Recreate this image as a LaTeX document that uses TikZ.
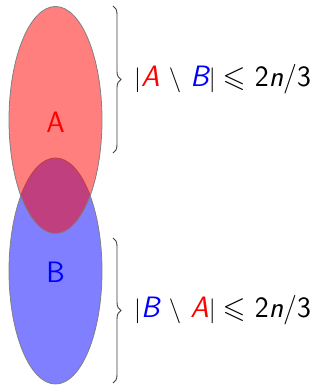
\documentclass[tikz,border=0pt]{standalone}
\usepackage{amssymb}
\usepackage{fontspec}
\usetikzlibrary{decorations.pathreplacing}
\begin{document}
\begin{tikzpicture}[x=1pt,y=1pt,
  setshape/.style={draw=gray, line width=0.8pt, fill opacity=0.5},
  bigtext/.style={font=\fontsize{29.5}{34}\selectfont\sffamily, inner sep=0pt},
  bracestyle/.style={decorate, decoration={brace, amplitude=8pt}, draw=black!75, line width=0.9pt}]
\useasboundingbox (0,0) rectangle (321,385);
\fill[white] (0,0) rectangle (321,385);
% blue then red
\filldraw[setshape, fill=blue] (55.5,114) ellipse [x radius=46.5, y radius=113];
\filldraw[setshape, fill=red] (55.5,265) ellipse [x radius=46.5, y radius=113.5];
\node[bigtext, text=red] (la) at (55.5,263) {A};
\node[bigtext, text=blue] (lb) at (55.5,113) {B};
\coordinate (t1) at (113,379);
\coordinate (t2) at (113,232);
\coordinate (b1) at (113,147);
\coordinate (b2) at (113,2);
\draw[bracestyle] (t1) -- (t2);
\draw[bracestyle] (b1) -- (b2);
\node[bigtext, anchor=west] (ta) at (134,305.5) {$|$\textit{\textcolor{red}{A}} $\setminus$ \textit{\textcolor{blue}{B}}$|\leqslant$ 2\textit{n}/3};
\node[bigtext, anchor=west] (tb) at (134,74.5) {$|$\textit{\textcolor{blue}{B}} $\setminus$ \textit{\textcolor{red}{A}}$|\leqslant$ 2\textit{n}/3};
\end{tikzpicture}
\end{document}
